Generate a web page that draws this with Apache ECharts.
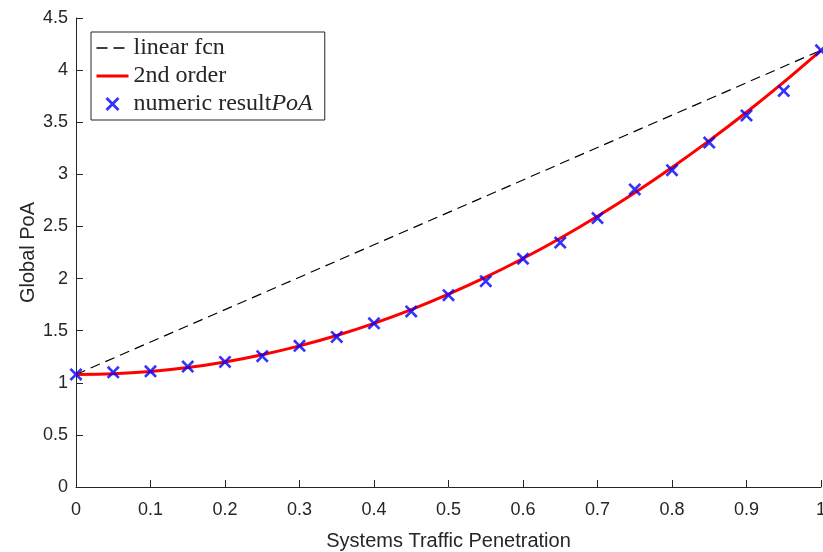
<!DOCTYPE html>
<html>
<head>
<meta charset="utf-8">
<script src="https://cdn.jsdelivr.net/npm/echarts@6/dist/echarts.min.js"></script>
<style>
  html, body { margin: 0; padding: 0; background: #fff; }
  #chart { width: 823px; height: 552px; }
</style>
</head>
<body>
<div id="chart"></div>
<script>
// Penetration levels (x) shared by all series
const penetration = [0, 0.05, 0.1, 0.15, 0.2, 0.25, 0.3, 0.35, 0.4, 0.45, 0.5,
                     0.55, 0.6, 0.65, 0.7, 0.75, 0.8, 0.85, 0.9, 0.95, 1];

// Simulated global PoA at each penetration level
const numericPoA = [1.08, 1.10, 1.11, 1.155, 1.20, 1.255, 1.355, 1.44, 1.57, 1.685, 1.84,
                    1.975, 2.19, 2.345, 2.58, 2.855, 3.04, 3.305, 3.565, 3.80, 4.19];

// Second-order fit evaluated on the same grid
const secondOrder = [1.08, 1.086, 1.108, 1.146, 1.20, 1.269, 1.354, 1.454, 1.57, 1.702, 1.85,
                     2.013, 2.192, 2.387, 2.598, 2.824, 3.066, 3.323, 3.596, 3.885, 4.19];

// Straight line between the two end points
const linearX = [0, 1];
const linearY = [1.08, 4.19];

const xTicks = [0, 0.1, 0.2, 0.3, 0.4, 0.5, 0.6, 0.7, 0.8, 0.9, 1];
const yTicks = [0, 0.5, 1, 1.5, 2, 2.5, 3, 3.5, 4, 4.5];

const axisColor = '#262626';
const sans = '"Liberation Sans", Arial, Helvetica, sans-serif';
const serif = '"Liberation Serif", "Times New Roman", serif';

const pairs = (xs, ys) => xs.map((x, i) => [x, ys[i]]);

// "x" marker drawn as a filled cross outline
const crossPath = 'path://M1.45,0 L5,3.55 L8.55,0 L10,1.45 L6.45,5 L10,8.55 L8.55,10 L5,6.45 L1.45,10 L0,8.55 L3.55,5 L0,1.45 Z';

const chart = echarts.init(document.getElementById('chart'), null, { renderer: 'canvas' });

chart.setOption({
  animation: false,
  backgroundColor: '#ffffff',
  grid: { left: 76, right: 2, top: 18, bottom: 65, containLabel: false, outerBoundsMode: 'none' },
  xAxis: {
    type: 'value',
    min: xTicks[0],
    max: xTicks[xTicks.length - 1],
    interval: 0.1,
    name: 'Systems Traffic Penetration',
    nameLocation: 'middle',
    nameGap: 44,
    nameTextStyle: { color: axisColor, fontFamily: sans, fontSize: 20 },
    axisLine: { show: true, lineStyle: { color: axisColor, width: 1 } },
    axisTick: { show: true, inside: true, length: 7, lineStyle: { color: axisColor } },
    axisLabel: { color: axisColor, fontFamily: sans, fontSize: 18, margin: 14,
                 formatter: v => String(+v.toFixed(2)) },
    splitLine: { show: false }
  },
  yAxis: {
    type: 'value',
    min: yTicks[0],
    max: yTicks[yTicks.length - 1],
    interval: 0.5,
    name: 'Global PoA',
    nameLocation: 'middle',
    nameGap: 38,
    nameMoveOverlap: false,
    nameTextStyle: { color: axisColor, fontFamily: sans, fontSize: 20 },
    axisLine: { show: true, lineStyle: { color: axisColor, width: 1 } },
    axisTick: { show: true, inside: true, length: 7, lineStyle: { color: axisColor } },
    axisLabel: { color: axisColor, fontFamily: sans, fontSize: 18, margin: 8,
                 formatter: v => String(+v.toFixed(2)) },
    splitLine: { show: false }
  },
  legend: {
    orient: 'vertical',
    left: 91,
    top: 32,
    padding: [4, 12, 4, 4],
    itemWidth: 32,
    itemHeight: 14,
    itemGap: 4,
    borderColor: axisColor,
    borderWidth: 1,
    backgroundColor: '#ffffff',
    data: [
      { name: 'linear fcn', itemStyle: { opacity: 0 }, lineStyle: { type: [11, 6], width: 1.4 } },
      { name: '2nd order', itemStyle: { opacity: 0 }, lineStyle: { width: 3 } },
      { name: 'numeric result' }
    ],
    textStyle: {
      color: axisColor,
      fontFamily: serif,
      fontSize: 24,
      rich: {
        r: { fontFamily: serif, fontSize: 24, color: axisColor },
        i: { fontFamily: serif, fontSize: 24, fontStyle: 'italic', color: axisColor }
      }
    },
    formatter: name => name === 'numeric result'
      ? '{r|numeric result}{i|PoA}'
      : '{r|' + name + '}'
  },
  series: [
    {
      name: 'linear fcn',
      type: 'line',
      data: pairs(linearX, linearY),
      symbol: 'none',
      lineStyle: { color: '#000000', width: 1.2, type: [10, 6] },
      itemStyle: { color: '#000000' },
      z: 2
    },
    {
      name: '2nd order',
      type: 'line',
      data: pairs(penetration, secondOrder),
      symbol: 'none',
      smooth: 0.3,
      lineStyle: { color: '#ff0000', width: 3 },
      itemStyle: { color: '#ff0000' },
      z: 3
    },
    {
      name: 'numeric result',
      type: 'scatter',
      data: pairs(penetration, numericPoA),
      symbol: crossPath,
      symbolSize: 13,
      clip: false,
      itemStyle: { color: '#0000ff' },
      z: 4
    }
  ]
});
</script>
</body>
</html>
